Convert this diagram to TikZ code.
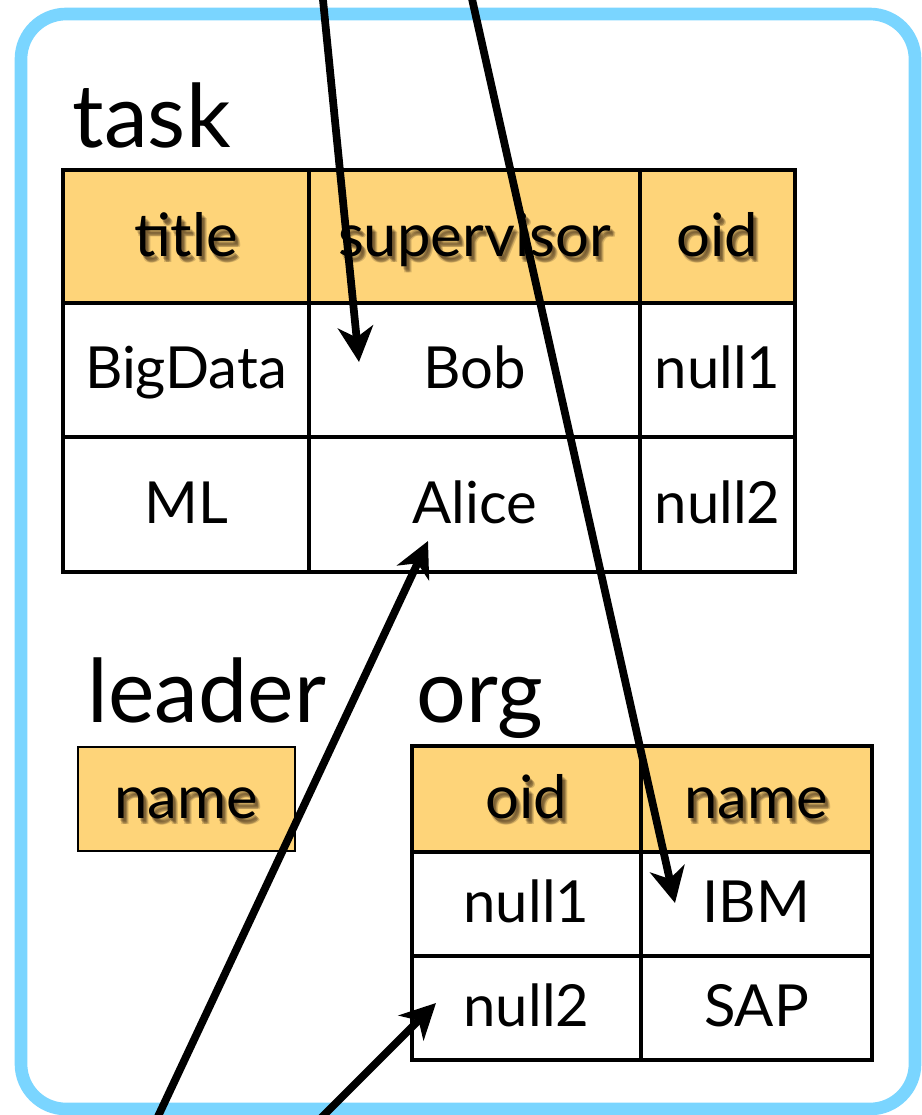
\documentclass[tikz,border=0pt]{standalone}
\usepackage{fontspec}
\setmainfont{Lato}
\usetikzlibrary{arrows.meta,calc}
\definecolor{frameblue}{RGB}{122,213,255}
\definecolor{hdrfill}{RGB}{254,212,121}
\tikzset{
  frame/.style={draw=frameblue, line width=3.6pt, rounded corners=0.45cm},
  cell/.style={draw=black, line width=1.35pt, inner sep=0pt},
  hcell/.style={cell, fill=hdrfill},
  thincell/.style={draw=black, line width=0.5pt, fill=hdrfill, inner sep=0pt},
  celltxt/.style={font=\fontsize{16.5}{18}\selectfont, text height=0.72em, text depth=0pt, inner sep=0pt, yshift=-0.06cm},
  hdrtxt/.style={font=\fontsize{17}{19}\selectfont, text height=0.72em, text depth=0pt, inner sep=0pt, yshift=-0.07cm},
  shadowtxt/.style={hdrtxt, text=black!70!brown, text opacity=0.2},
  lbl/.style={font=\fontsize{25}{28}\selectfont, inner sep=0pt, anchor=base west},
  link/.style={line width=2.2pt, -{Stealth[length=10pt,width=10pt,inset=3pt]}}
}
\begin{document}
\begin{tikzpicture}[x=0.01cm,y=-0.01cm]
\useasboundingbox (0,0) rectangle (922,1115);
\clip (0,0) rectangle (922,1115);
\draw[frame] (21,14) rectangle (915,1109);

% labels
\node[lbl] (ltask) at (72,147) {task};
\node[lbl] (lleader) at (87,722) {leader};
\node[lbl] (lorg) at (416,722) {org};

% task table
\node[hcell, minimum width=2.46cm, minimum height=1.33cm] (th1) at (186,236.5) {};
\node[hcell, minimum width=3.31cm, minimum height=1.33cm] (th2) at (474.5,236.5) {};
\node[hcell, minimum width=1.55cm, minimum height=1.33cm] (th3) at (717.5,236.5) {};
\node[cell, minimum width=2.46cm, minimum height=1.34cm] (t11) at (186,370) {};
\node[cell, minimum width=3.31cm, minimum height=1.34cm] (t12) at (474.5,370) {};
\node[cell, minimum width=1.55cm, minimum height=1.34cm] (t13) at (717.5,370) {};
\node[cell, minimum width=2.46cm, minimum height=1.35cm] (t21) at (186,504.5) {};
\node[cell, minimum width=3.31cm, minimum height=1.35cm] (t22) at (474.5,504.5) {};
\node[cell, minimum width=1.55cm, minimum height=1.35cm] (t23) at (717.5,504.5) {};

% leader table
\node[thincell, minimum width=2.17cm, minimum height=1.04cm] (lh1) at (186.5,799) {};

% org table
\node[hcell, minimum width=2.29cm, minimum height=1.06cm] (oh1) at (526.5,799) {};
\node[hcell, minimum width=2.31cm, minimum height=1.06cm] (oh2) at (756.5,799) {};
\node[cell, minimum width=2.29cm, minimum height=1.04cm] (o11) at (526.5,904) {};
\node[cell, minimum width=2.31cm, minimum height=1.04cm] (o12) at (756.5,904) {};
\node[cell, minimum width=2.29cm, minimum height=1.04cm] (o21) at (526.5,1008) {};
\node[cell, minimum width=2.31cm, minimum height=1.04cm] (o22) at (756.5,1008) {};

% header texts with soft shadow
\foreach \c/\t in {th1/title, th2/supervisor, th3/oid, lh1/name, oh1/oid, oh2/name}{
  \foreach \dx/\dy in {2/3,3/4,4/5,3/6,5/6}{
    \node[shadowtxt] (s-\c-\dx-\dy) at ([shift={(\dx,\dy)}]\c.center) {\t};
  }
  \node[hdrtxt] (x-\c) at (\c.center) {\t};
}

% body texts
\node[celltxt] (x-t11) at (t11.center) {BigData};
\node[celltxt] (x-t12) at (t12.center) {Bob};
\node[celltxt] (x-t13) at (t13.center) {null1};
\node[celltxt] (x-t21) at (t21.center) {ML};
\node[celltxt] (x-t22) at (t22.center) {Alice};
\node[celltxt] (x-t23) at (t23.center) {null2};
\node[celltxt] (x-o11) at (o11.center) {null1};
\node[celltxt] (x-o12) at (o12.center) {IBM};
\node[celltxt] (x-o21) at (o21.center) {null2};
\node[celltxt] (x-o22) at (o22.center) {SAP};

% arrows
\coordinate (a1s) at (322,-10);
\coordinate (a1e) at (359,362);
\coordinate (a2s) at (470,-10);
\coordinate (a2e) at (675,903);
\coordinate (a3s) at (154,1125);
\coordinate (a3e) at (428,541);
\coordinate (a4s) at (314,1125);
\coordinate (a4e) at (436,1003);
\draw[link] (a1s) -- (a1e);
\draw[link] (a2s) -- (a2e);
\draw[link] (a3s) -- (a3e);
\draw[link] (a4s) -- (a4e);
\end{tikzpicture}
\end{document}
